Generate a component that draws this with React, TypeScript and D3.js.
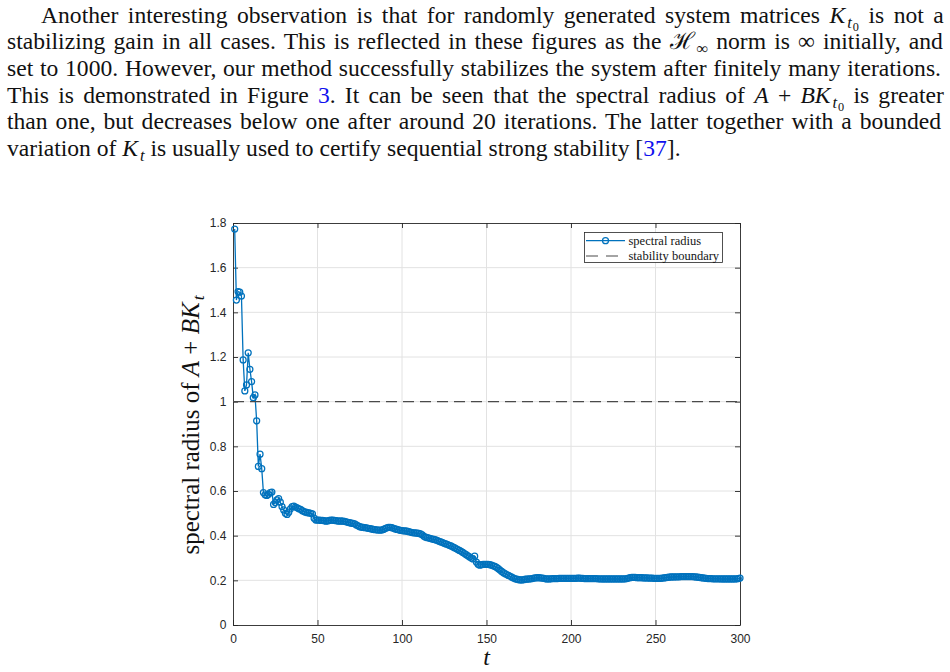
import React, { useEffect, useRef } from "react";
import * as d3 from "d3";

// ---- Data -------------------------------------------------------------
const iterations: number[] = Array.from({ length: 300 }, (_, i) => i + 1);

const spectralRadius: number[] = [
  // t = 1–20
  1.773, 1.455, 1.493, 1.490, 1.473, 1.187, 1.048, 1.075, 1.219, 1.145,
  1.090, 1.018, 1.030, 0.914, 0.710, 0.765, 0.700, 0.593, 0.583, 0.580,
  // 21–30
  0.585, 0.593, 0.595, 0.540, 0.548, 0.560, 0.566, 0.550, 0.530, 0.515,
  // 31–40
  0.500, 0.495, 0.505, 0.520, 0.530, 0.532, 0.528, 0.525, 0.520, 0.518,
  // 41–50
  0.512, 0.508, 0.505, 0.503, 0.502, 0.500, 0.498, 0.478, 0.470, 0.470,
  // 51–60
  0.470, 0.468, 0.468, 0.467, 0.465, 0.466, 0.468, 0.470, 0.470, 0.468,
  // 61–70
  0.467, 0.466, 0.465, 0.466, 0.465, 0.464, 0.462, 0.460, 0.458, 0.456,
  // 71–80
  0.455, 0.453, 0.448, 0.444, 0.440, 0.438, 0.437, 0.436, 0.435, 0.433,
  // 81–90
  0.432, 0.430, 0.428, 0.427, 0.426, 0.425, 0.425, 0.425, 0.428, 0.432,
  // 91–100
  0.435, 0.437, 0.437, 0.436, 0.433, 0.430, 0.428, 0.426, 0.424, 0.423,
  // 101–110
  0.422, 0.421, 0.420, 0.418, 0.416, 0.414, 0.413, 0.412, 0.411, 0.410,
  // 111–120
  0.408, 0.404, 0.397, 0.393, 0.391, 0.389, 0.387, 0.385, 0.383, 0.381,
  // 121–130
  0.378, 0.375, 0.372, 0.369, 0.366, 0.363, 0.360, 0.357, 0.354, 0.350,
  // 131–140
  0.346, 0.342, 0.338, 0.334, 0.330, 0.325, 0.320, 0.315, 0.310, 0.305,
  // 141–150
  0.300, 0.296, 0.308, 0.282, 0.272, 0.268, 0.270, 0.271, 0.272, 0.272,
  // 151–160
  0.271, 0.270, 0.268, 0.265, 0.262, 0.258, 0.252, 0.246, 0.240, 0.234,
  // 161–170
  0.230, 0.226, 0.222, 0.218, 0.214, 0.210, 0.207, 0.205, 0.203, 0.202,
  // 171–180
  0.202, 0.203, 0.205, 0.205, 0.206, 0.207, 0.208, 0.210, 0.211, 0.212,
  // 181–190
  0.212, 0.211, 0.210, 0.209, 0.207, 0.206, 0.206, 0.207, 0.208, 0.208,
  // 191–200
  0.208, 0.208, 0.209, 0.209, 0.209, 0.209, 0.209, 0.209, 0.209, 0.209,
  // 201–210
  0.209, 0.209, 0.209, 0.210, 0.210, 0.209, 0.209, 0.208, 0.208, 0.208,
  // 211–220
  0.208, 0.208, 0.208, 0.208, 0.208, 0.207, 0.207, 0.206, 0.206, 0.206,
  // 221–230
  0.206, 0.206, 0.206, 0.206, 0.206, 0.206, 0.206, 0.206, 0.206, 0.206,
  // 231–240
  0.206, 0.207, 0.208, 0.210, 0.212, 0.213, 0.213, 0.213, 0.212, 0.212,
  // 241–250
  0.212, 0.212, 0.211, 0.211, 0.211, 0.210, 0.210, 0.210, 0.209, 0.209,
  // 251–260
  0.209, 0.209, 0.209, 0.210, 0.211, 0.212, 0.213, 0.214, 0.215, 0.215,
  // 261–270
  0.215, 0.216, 0.216, 0.216, 0.217, 0.217, 0.217, 0.217, 0.217, 0.217,
  // 271–280
  0.217, 0.217, 0.216, 0.215, 0.214, 0.213, 0.212, 0.211, 0.210, 0.209,
  // 281–290
  0.208, 0.208, 0.208, 0.207, 0.207, 0.207, 0.207, 0.207, 0.206, 0.206,
  // 291–300
  0.206, 0.206, 0.206, 0.206, 0.206, 0.206, 0.206, 0.207, 0.208, 0.210,
];

const stabilityBoundary = 1;

const xTicks = [0, 50, 100, 150, 200, 250, 300];
const xTickLabels = ["0", "50", "100", "150", "200", "250", "300"];
const yTicks = [0, 0.2, 0.4, 0.6, 0.8, 1, 1.2, 1.4, 1.6, 1.8];
const yTickLabels = ["0", "0.2", "0.4", "0.6", "0.8", "1", "1.2", "1.4", "1.6", "1.8"];

const legendLabels = ["spectral radius", "stability boundary"];

// Paragraph text, one entry per typeset line.
type Seg = { t: string; k: "rm" | "it" | "cal" | "subit" | "subrm" | "subsub" | "link" };
const paragraphLines: Seg[][] = [
  [
    { t: "Another interesting observation is that for randomly generated system matrices ", k: "rm" },
    { t: "K", k: "it" },
    { t: "t", k: "subit" },
    { t: "0", k: "subsub" },
    { t: " is not a", k: "rm" },
  ],
  [
    { t: "stabilizing gain in all cases. This is reflected in these figures as the ", k: "rm" },
    { t: "ℋ", k: "cal" },
    { t: "∞", k: "subrm" },
    { t: " norm is ∞ initially, and", k: "rm" },
  ],
  [{ t: "set to 1000. However, our method successfully stabilizes the system after finitely many iterations.", k: "rm" }],
  [
    { t: "This is demonstrated in Figure ", k: "rm" },
    { t: "3", k: "link" },
    { t: ". It can be seen that the spectral radius of ", k: "rm" },
    { t: "A", k: "it" },
    { t: " + ", k: "rm" },
    { t: "BK", k: "it" },
    { t: "t", k: "subit" },
    { t: "0", k: "subsub" },
    { t: " is greater", k: "rm" },
  ],
  [{ t: "than one, but decreases below one after around 20 iterations. The latter together with a bounded", k: "rm" }],
  [
    { t: "variation of ", k: "rm" },
    { t: "K", k: "it" },
    { t: "t", k: "subit" },
    { t: " is usually used to certify sequential strong stability [", k: "rm" },
    { t: "37", k: "link" },
    { t: "].", k: "rm" },
  ],
];

const yLabelSegs: Seg[] = [
  { t: "spectral radius of ", k: "rm" },
  { t: "A", k: "it" },
  { t: " + ", k: "rm" },
  { t: "BK", k: "it" },
  { t: "t", k: "subit" },
];

// ---- Layout -----------------------------------------------------------
const W = 950;
const H = 672;
const plot = { left: 233, right: 740, top: 223, bottom: 625 };
const SERIF = "'Liberation Serif', 'DejaVu Serif', serif";
const SANS = "'Liberation Sans', Arial, Helvetica, sans-serif";
const BLUE = "#0072BD";
const AXIS = "#262626";
const DASH = "#4a4a4a";

type Sel = d3.Selection<any, unknown, null, undefined>;

// Appends a run of text with math-style italics and sub/sub-subscripts.
function appendSegs(text: Sel, segs: Seg[], size: number) {
  let shift = 0;
  let prev: Seg["k"] | null = null;
  segs.forEach((s) => {
    const isSub = s.k === "subit" || s.k === "subrm";
    const target = isSub ? size * 0.21 : s.k === "subsub" ? size * 0.34 : 0;
    const fs = isSub ? size * 0.7 : s.k === "subsub" ? size * 0.52 : size;
    const ts = text
      .append("tspan")
      .attr("font-size", fs)
      .attr("dy", target - shift)
      .text(s.t);
    if (isSub && (prev === "it" || prev === "cal")) ts.attr("dx", size * 0.08);
    if (s.k === "subsub") ts.attr("dx", size * 0.04);
    if (s.k === "it" || s.k === "subit") ts.attr("font-style", "italic");
    if (s.k === "link") ts.attr("fill", "#1010ee");
    prev = s.k;
    shift = target;
  });
}

function drawParagraph(svg: Sel) {
  const size = 23.6;
  const baselines = [22.6, 49.3, 76.0, 102.7, 129.4, 156.1];
  const starts = [41, 7, 7, 7, 7, 7];
  const rightEdge = 941;
  paragraphLines.forEach((segs, i) => {
    const text = svg
      .append("text")
      .attr("x", starts[i])
      .attr("y", baselines[i])
      .attr("font-family", SERIF)
      .attr("font-size", size)
      .attr("fill", "#111");
    appendSegs(text, segs, size);
    if (i < paragraphLines.length - 1) {
      const node = text.node() as SVGTextElement;
      const natural = node.getComputedTextLength();
      const full = segs.map((s) => s.t).join("");
      const spaces = (full.match(/ /g) || []).length;
      const ws = (rightEdge - starts[i] - natural) / spaces;
      text.attr("word-spacing", ws);
    }
  });
}

function drawChart(svg: Sel) {
  const x = d3.scaleLinear().domain([0, 300]).range([plot.left, plot.right]);
  const y = d3.scaleLinear().domain([0, 1.8]).range([plot.bottom, plot.top]);

  const g = svg.append("g");

  // grid
  g.append("g")
    .selectAll("line")
    .data(xTicks.slice(1, -1))
    .join("line")
    .attr("x1", (d) => x(d))
    .attr("x2", (d) => x(d))
    .attr("y1", y(0))
    .attr("y2", y(1.8))
    .attr("stroke", "#e2e2e2")
    .attr("stroke-width", 1);
  g.append("g")
    .selectAll("line")
    .data(yTicks.slice(1, -1))
    .join("line")
    .attr("x1", x(0))
    .attr("x2", x(300))
    .attr("y1", (d) => y(d))
    .attr("y2", (d) => y(d))
    .attr("stroke", "#e2e2e2")
    .attr("stroke-width", 1);

  // axes (inward ticks on all four sides)
  const styleAxis = (a: Sel) => {
    a.select(".domain").attr("stroke", AXIS).attr("stroke-width", 0.9);
    a.selectAll(".tick line").attr("stroke", AXIS).attr("stroke-width", 0.9);
    a.selectAll(".tick text").attr("fill", AXIS);
    a.attr("font-family", SANS).attr("font-size", 12);
  };

  const bottom = g
    .append("g")
    .attr("transform", `translate(0,${plot.bottom})`)
    .call(
      d3
        .axisBottom(x)
        .tickValues(xTicks)
        .tickFormat((_, i) => xTickLabels[i])
        .tickSizeInner(-5)
        .tickSizeOuter(0)
        .tickPadding(9.5)
    );
  styleAxis(bottom);

  const top = g
    .append("g")
    .attr("transform", `translate(0,${plot.top})`)
    .call(d3.axisTop(x).tickValues(xTicks).tickFormat(() => "").tickSizeInner(-5).tickSizeOuter(0));
  styleAxis(top);

  const left = g
    .append("g")
    .attr("transform", `translate(${plot.left},0)`)
    .call(
      d3
        .axisLeft(y)
        .tickValues(yTicks)
        .tickFormat((_, i) => yTickLabels[i])
        .tickSizeInner(-5)
        .tickSizeOuter(0)
        .tickPadding(6.5)
    );
  styleAxis(left);

  const right = g
    .append("g")
    .attr("transform", `translate(${plot.right},0)`)
    .call(d3.axisRight(y).tickValues(yTicks).tickFormat(() => "").tickSizeInner(-5).tickSizeOuter(0));
  styleAxis(right);

  // series
  const pts = iterations.map((t, i) => [t, spectralRadius[i]] as [number, number]);
  const line = d3
    .line<[number, number]>()
    .x((d) => x(d[0]))
    .y((d) => y(d[1]));

  g.append("path")
    .attr("d", line(pts) as string)
    .attr("fill", "none")
    .attr("stroke", BLUE)
    .attr("stroke-width", 1.3);

  g.append("g")
    .selectAll("circle")
    .data(pts)
    .join("circle")
    .attr("cx", (d) => x(d[0]))
    .attr("cy", (d) => y(d[1]))
    .attr("r", 3)
    .attr("fill", "none")
    .attr("stroke", BLUE)
    .attr("stroke-width", 1.25);

  g.append("line")
    .attr("x1", x(0))
    .attr("x2", x(300))
    .attr("y1", y(stabilityBoundary))
    .attr("y2", y(stabilityBoundary))
    .attr("stroke", DASH)
    .attr("stroke-width", 1.1)
    .attr("stroke-dasharray", "11,6");

  // legend
  const lg = g.append("g");
  lg.append("rect")
    .attr("x", 584.5)
    .attr("y", 232.5)
    .attr("width", 138)
    .attr("height", 30)
    .attr("fill", "#fff")
    .attr("stroke", AXIS)
    .attr("stroke-width", 0.8);
  const rows = [240.7, 256];
  lg.append("line")
    .attr("x1", 586)
    .attr("x2", 625)
    .attr("y1", rows[0])
    .attr("y2", rows[0])
    .attr("stroke", BLUE)
    .attr("stroke-width", 1.3);
  lg.append("circle")
    .attr("cx", 605.5)
    .attr("cy", rows[0])
    .attr("r", 3)
    .attr("fill", "none")
    .attr("stroke", BLUE)
    .attr("stroke-width", 1.25);
  lg.append("line")
    .attr("x1", 586)
    .attr("x2", 625)
    .attr("y1", rows[1])
    .attr("y2", rows[1])
    .attr("stroke", DASH)
    .attr("stroke-width", 1.1)
    .attr("stroke-dasharray", "12,8");
  legendLabels.forEach((lab, i) => {
    lg.append("text")
      .attr("x", 628.5)
      .attr("y", rows[i] + 4)
      .attr("font-family", SERIF)
      .attr("font-size", 12.5)
      .attr("fill", "#141414")
      .text(lab);
  });

  // axis titles
  const yl = g
    .append("text")
    .attr("transform", `translate(199,${(plot.top + plot.bottom) / 2 + 1}) rotate(-90)`)
    .attr("text-anchor", "middle")
    .attr("font-family", SERIF)
    .attr("font-size", 25)
    .attr("fill", "#111");
  appendSegs(yl, yLabelSegs, 25);

  g.append("text")
    .attr("x", x(150))
    .attr("y", 665)
    .attr("text-anchor", "middle")
    .attr("font-family", SERIF)
    .attr("font-style", "italic")
    .attr("font-size", 24)
    .attr("fill", "#111")
    .text("t");
}

export default function App() {
  const ref = useRef<SVGSVGElement>(null);
  useEffect(() => {
    const svg = d3.select(ref.current) as Sel;
    svg.selectAll("*").remove();
    svg.append("rect").attr("width", W).attr("height", H).attr("fill", "#fff");
    drawParagraph(svg);
    drawChart(svg);
  }, []);
  return (
    <svg
      ref={ref}
      width={W}
      height={H}
      style={{ position: "absolute", left: 0, top: 0, display: "block" }}
    />
  );
}
